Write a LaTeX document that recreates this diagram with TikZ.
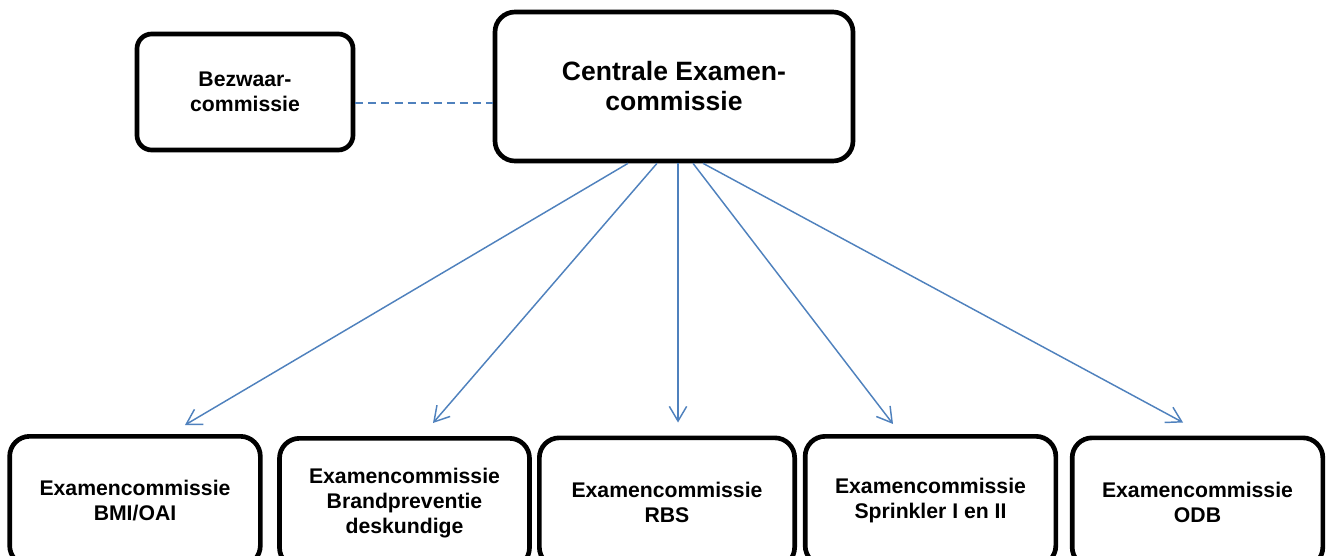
\documentclass[tikz,border=0pt]{standalone}
\usepackage{fontspec}
\setmainfont{Liberation Sans}
\usetikzlibrary{arrows.meta,calc}
\definecolor{linkblue}{HTML}{4F81BD}
\begin{document}
\begin{tikzpicture}[x=0.75pt,y=0.75pt,yscale=-1,xscale=1,
	commbox/.style={draw=black,line width=3.5pt,rounded corners=15pt,align=center,font=\bfseries\fontsize{15.9}{18.75}\selectfont,inner sep=0pt},
	linkarrow/.style={draw=linkblue,line width=1.1pt,-{Straight Barb[length=11pt,width=13pt,line width=1.1pt]}},
	dashedlink/.style={draw=linkblue,line width=1.1pt,dash pattern=on 6pt off 3.8pt}]
	\clip (0,0) rectangle (1327,556);
	\useasboundingbox (0,0) rectangle (1327,556);

	\node (bezwaar) at (245,92) [commbox,rounded corners=11pt,minimum width=162pt,minimum height=87pt] {Bezwaar-\\commissie};
	\node (centrale) at (674,86.5) [commbox,font=\bfseries\fontsize{19.9}{22.5}\selectfont,minimum width=268.5pt,minimum height=111.75pt] {Centrale Examen-\\commissie};

	\node (bmi) at (135,501) [commbox,minimum width=188pt,minimum height=97pt] {Examencommissie\\BMI/OAI};
	\node (bp) at (404.5,503) [commbox,minimum width=187.5pt,minimum height=97pt] {Examencommissie\\Brandpreventie\\deskundige};
	\node (rbs) at (667,502.5) [commbox,minimum width=191.5pt,minimum height=97pt] {Examencommissie\\RBS};
	\node (spr) at (930.5,501) [commbox,minimum width=188pt,minimum height=97pt] {Examencommissie\\Sprinkler I en II};
	\node (odb) at (1197.5,502.5) [commbox,minimum width=188pt,minimum height=97pt] {Examencommissie\\ODB};

	\coordinate (dashstart) at ($(bezwaar.east)+(0,11)$);
	\draw [dashedlink] (dashstart) -- (dashstart -| centrale.west);

	\draw [linkarrow] ($(centrale.south)+(-46,0)$) -- ($(bmi.north)+(50,-9)$);
	\draw [linkarrow] ($(centrale.south)+(-17,0)$) -- ($(bp.north)+(28.5,-13)$);
	\draw [linkarrow] ($(centrale.south)+(4,0)$) -- ($(rbs.north)+(11,-13)$);
	\draw [linkarrow] ($(centrale.south)+(19,0)$) -- ($(spr.north)+(-37.5,-10)$);
	\draw [linkarrow] ($(centrale.south)+(29,0)$) -- ($(odb.north)+(-14.5,-13)$);
\end{tikzpicture}
\end{document}
